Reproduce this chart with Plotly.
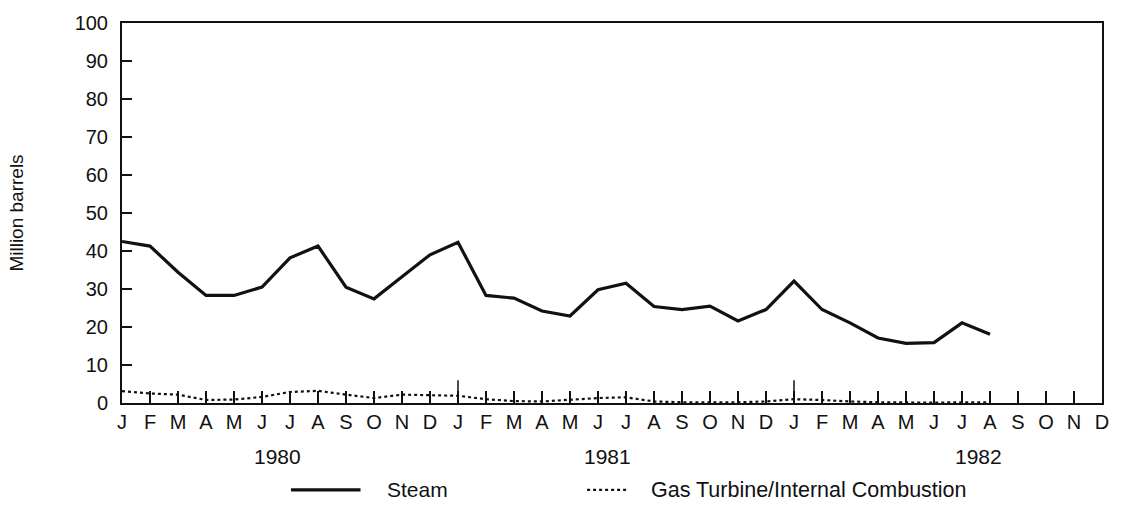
import plotly.graph_objects as go

# Monthly fuel oil receipts, Jan 1980 - Aug 1982 (million barrels)
month_letters = ["J", "F", "M", "A", "M", "J", "J", "A", "S", "O", "N", "D"]
years = ["1980", "1981", "1982"]
year_label_pos = [5.55, 17.35, 30.6]

steam = [
    42.5, 41.3, 34.4, 28.3, 28.3, 30.5, 38.2, 41.3, 30.5, 27.4, 33.2, 39.0,
    42.3, 28.3, 27.6, 24.2, 22.9, 29.8, 31.5, 25.4, 24.6, 25.5, 21.6, 24.6,
    32.1, 24.6, 21.1, 17.1, 15.7, 15.9, 21.1, 18.1,
]
gas_turbine = [
    3.1, 2.5, 2.2, 0.8, 0.9, 1.6, 2.9, 3.2, 2.2, 1.3, 2.2, 2.0,
    1.9, 1.0, 0.5, 0.4, 0.8, 1.3, 1.5, 0.4, 0.2, 0.2, 0.2, 0.4,
    1.0, 0.8, 0.4, 0.2, 0.1, 0.1, 0.2, 0.2,
]

tick_labels = month_letters * len(years)
tick_vals = list(range(len(tick_labels)))

FONT = "Liberation Sans, Arial, Helvetica, sans-serif"
INK = "#111111"

fig = go.Figure()
fig.add_trace(go.Scatter(
    x=list(range(len(steam))), y=steam, mode="lines",
    line=dict(color=INK, width=3.2), name="Steam", showlegend=False,
))
fig.add_trace(go.Scatter(
    x=list(range(len(gas_turbine))), y=gas_turbine, mode="lines",
    line=dict(color=INK, width=2.2, dash="dot"),
    name="Gas Turbine/Internal Combustion", showlegend=False,
))

# taller ticks at the start of each new year
for i in range(1, len(years)):
    fig.add_shape(type="line", xref="x", yref="paper",
                  x0=12 * i, x1=12 * i, y0=0, y1=0.06,
                  line=dict(color=INK, width=1.5))

# year labels under the month letters
for yr, pos in zip(years, year_label_pos):
    fig.add_annotation(x=pos, y=-0.140, xref="x", yref="paper",
                       text=yr, showarrow=False, yanchor="middle",
                       font=dict(family=FONT, size=21, color=INK))

# legend drawn below the axis
legend_y = -0.2286
fig.add_shape(type="line", xref="paper", yref="paper",
              x0=0.1724, x1=0.2434, y0=legend_y, y1=legend_y,
              line=dict(color=INK, width=3.2))
fig.add_annotation(x=0.2688, y=legend_y, xref="paper", yref="paper",
                   text="Steam", showarrow=False,
                   xanchor="left", yanchor="middle",
                   font=dict(family=FONT, size=21, color=INK))
fig.add_shape(type="line", xref="paper", yref="paper",
              x0=0.4746, x1=0.5152, y0=legend_y, y1=legend_y,
              line=dict(color=INK, width=2.2, dash="dot"))
fig.add_annotation(x=0.5375, y=legend_y, xref="paper", yref="paper",
                   text="Gas Turbine/Internal Combustion", showarrow=False,
                   xanchor="left", yanchor="middle",
                   font=dict(family=FONT, size=21.5, color=INK))

fig.update_layout(
    width=1121, height=509,
    margin=dict(l=122, r=13, t=18, b=106),
    paper_bgcolor="white", plot_bgcolor="white",
    font=dict(family=FONT, size=19, color=INK),
    showlegend=False,
)
fig.update_xaxes(
    range=[0, 35], tickvals=tick_vals, ticktext=tick_labels,
    ticks="inside", ticklen=12, tickwidth=1.5, tickcolor=INK,
    showline=True, linecolor=INK, linewidth=2, mirror=True,
    showgrid=False, zeroline=False,
    tickfont=dict(family=FONT, size=20, color=INK),
)
fig.update_yaxes(
    range=[0, 100], dtick=10,
    ticks="inside", ticklen=10, tickwidth=1.5, tickcolor=INK,
    showline=True, linecolor=INK, linewidth=2, mirror=True,
    showgrid=False, zeroline=False, ticklabelstandoff=8,
    tickfont=dict(family=FONT, size=20, color=INK),
    title=dict(text="Million barrels", standoff=46,
               font=dict(family=FONT, size=19, color=INK)),
)

fig.write_html("out.html")
